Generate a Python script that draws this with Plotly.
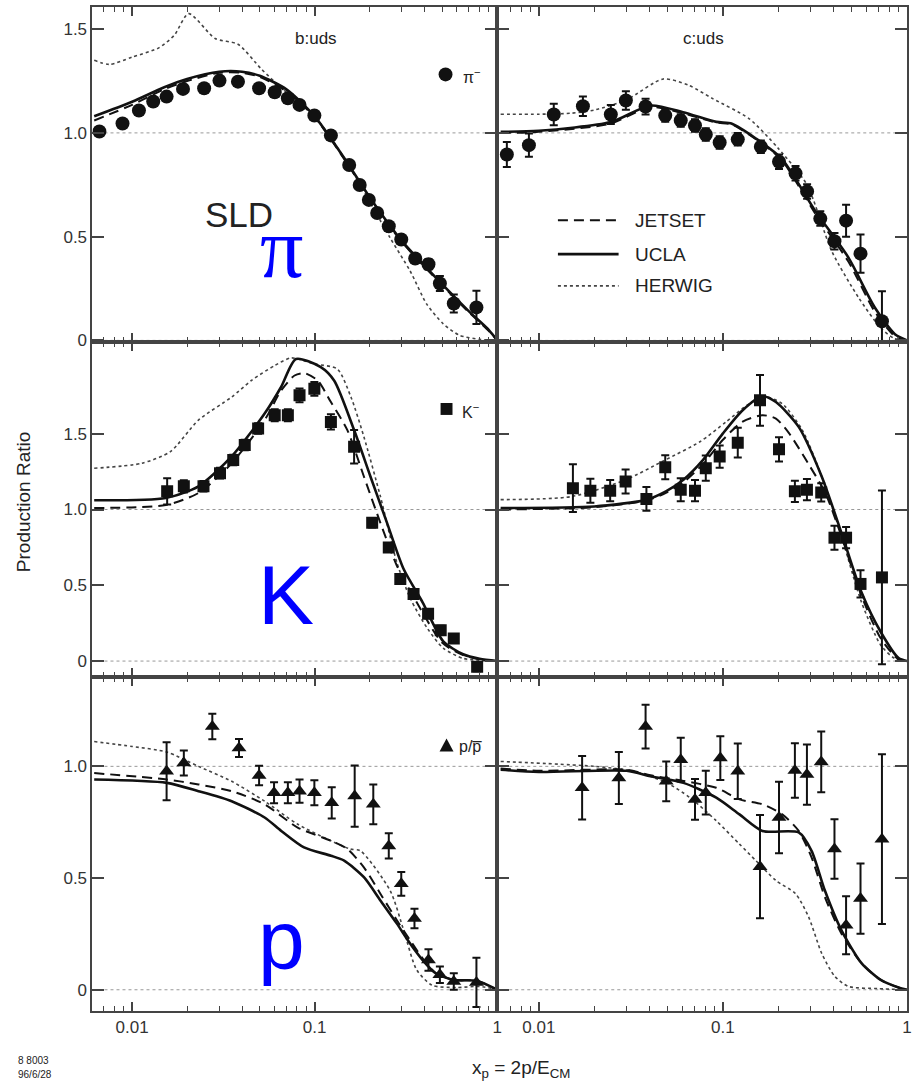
import plotly.graph_objects as go
from plotly.subplots import make_subplots

# ---------------- data ----------------
# pi, b:uds
pi_b_x = [0.00662, 0.00886, 0.0109, 0.01305, 0.01545, 0.0190, 0.0248, 0.0301, 0.0380, 0.0496, 0.0604, 0.0713, 0.0826,
          0.0996, 0.1227, 0.1545, 0.1764, 0.198, 0.220, 0.2546, 0.298, 0.3553, 0.420, 0.485, 0.578, 0.769]
pi_b_y = [1.007, 1.045, 1.108, 1.151, 1.175, 1.212, 1.215, 1.252, 1.247, 1.215, 1.196, 1.167, 1.135,
          1.084, 0.988, 0.845, 0.749, 0.677, 0.614, 0.550, 0.486, 0.395, 0.367, 0.274, 0.178, 0.159]
pi_b_e = [0.01, 0.01, 0.01, 0.01, 0.01, 0.01, 0.01, 0.01, 0.01, 0.01, 0.01, 0.01, 0.01,
          0.01, 0.01, 0.01, 0.012, 0.012, 0.015, 0.015, 0.018, 0.02, 0.025, 0.036, 0.043, 0.08]
# pi, c:uds
pi_c_x = [0.0067, 0.00883, 0.01205, 0.01735, 0.0246, 0.0297, 0.038, 0.0486, 0.059, 0.0705, 0.0807, 0.096, 0.1204,
          0.1607, 0.2017, 0.248, 0.2866, 0.338, 0.4036, 0.4667, 0.559, 0.731]
pi_c_y = [0.896, 0.941, 1.089, 1.129, 1.089, 1.156, 1.127, 1.084, 1.060, 1.036, 0.992, 0.954, 0.969,
          0.933, 0.861, 0.805, 0.718, 0.587, 0.478, 0.577, 0.418, 0.092]
pi_c_e = [0.06, 0.056, 0.052, 0.047, 0.046, 0.045, 0.038, 0.03, 0.03, 0.03, 0.03, 0.03, 0.03,
          0.03, 0.035, 0.035, 0.035, 0.035, 0.04, 0.077, 0.092, 0.145]
# K, b:uds
k_b_x = [0.01556, 0.0192, 0.0246, 0.0303, 0.0358, 0.0414, 0.049, 0.0604, 0.0713, 0.0826, 0.0996, 0.1227, 0.1644,
         0.2065, 0.2546, 0.2944, 0.348, 0.418, 0.49, 0.578, 0.776]
k_b_y = [1.12, 1.153, 1.153, 1.24, 1.327, 1.426, 1.534, 1.622, 1.622, 1.753, 1.796, 1.578, 1.414,
         0.912, 0.749, 0.541, 0.443, 0.312, 0.203, 0.149, -0.037]
k_b_e = [0.087, 0.04, 0.035, 0.035, 0.035, 0.035, 0.035, 0.04, 0.04, 0.045, 0.045, 0.05, 0.11,
         0.03, 0.03, 0.03, 0.03, 0.03, 0.03, 0.03, 0.03]
# K, c:uds
k_c_x = [0.01531, 0.01905, 0.0244, 0.0296, 0.0384, 0.0486, 0.059, 0.0705, 0.0807, 0.096, 0.1204, 0.159, 0.2017,
         0.246, 0.286, 0.342, 0.4036, 0.4667, 0.559, 0.731]
k_c_y = [1.141, 1.124, 1.124, 1.185, 1.07, 1.279, 1.131, 1.124, 1.273, 1.349, 1.441, 1.72, 1.397,
         1.12, 1.131, 1.113, 0.814, 0.814, 0.509, 0.552]
k_c_e = [0.158, 0.079, 0.07, 0.079, 0.079, 0.079, 0.076, 0.07, 0.084, 0.074, 0.098, 0.168, 0.08,
         0.07, 0.07, 0.06, 0.079, 0.07, 0.09, 0.573]
# p, b:uds
p_b_x = [0.01545, 0.0192, 0.0275, 0.0385, 0.0496, 0.0599, 0.0713, 0.0826, 0.0996, 0.124, 0.1656, 0.2094, 0.2546,
         0.298, 0.352, 0.42, 0.485, 0.578, 0.769]
p_b_y = [0.978, 1.015, 1.178, 1.082, 0.959, 0.882, 0.882, 0.889, 0.882, 0.837, 0.867, 0.83, 0.644,
         0.474, 0.319, 0.133, 0.067, 0.037, 0.033]
p_b_e = [0.13, 0.056, 0.057, 0.04, 0.044, 0.047, 0.047, 0.052, 0.056, 0.07, 0.137, 0.089, 0.056,
         0.053, 0.044, 0.048, 0.037, 0.037, 0.11]
# p, c:uds
p_c_x = [0.01718, 0.0272, 0.038, 0.0492, 0.059, 0.0705, 0.0807, 0.0968, 0.1204, 0.159, 0.2017, 0.246, 0.286,
         0.342, 0.4036, 0.4667, 0.559, 0.731]
p_c_y = [0.904, 0.948, 1.178, 0.933, 1.03, 0.852, 0.882, 1.037, 0.978, 0.551, 0.771, 0.981, 0.963,
         1.02, 0.63, 0.289, 0.408, 0.674]
p_c_e = [0.142, 0.116, 0.098, 0.089, 0.098, 0.091, 0.098, 0.098, 0.124, 0.231, 0.16, 0.122, 0.135,
         0.136, 0.133, 0.13, 0.157, 0.38]

# model curves (JETSET dashed, UCLA solid, HERWIG dotted)
pi_b_herwig_x = [0.0062, 0.0075, 0.01, 0.014, 0.017, 0.0204, 0.0285, 0.038, 0.051, 0.065, 0.1, 0.15, 0.259, 0.333,
                 0.411, 0.506, 0.62, 0.8, 1.0]
pi_b_herwig_y = [1.35, 1.33, 1.365, 1.41, 1.47, 1.575, 1.455, 1.427, 1.308, 1.22, 1.08, 0.86, 0.494, 0.335,
                 0.175, 0.08, 0.025, 0.005, 0.0]
pi_b_ucla_x = [0.0062, 0.01, 0.015, 0.02, 0.03, 0.04, 0.05, 0.07, 0.1, 0.15, 0.2, 0.3, 0.5, 0.7, 0.9, 1.0]
pi_b_ucla_y = [1.08, 1.15, 1.22, 1.26, 1.295, 1.295, 1.275, 1.21, 1.08, 0.86, 0.69, 0.48, 0.27, 0.14, 0.05, 0.0]
pi_b_jetset_x = pi_b_ucla_x
pi_b_jetset_y = [1.06, 1.135, 1.21, 1.25, 1.29, 1.29, 1.27, 1.2, 1.075, 0.855, 0.685, 0.475, 0.265, 0.135, 0.045, 0.0]

pi_c_herwig_x = [0.0062, 0.01, 0.015, 0.02, 0.03, 0.0474, 0.065, 0.088, 0.139, 0.2, 0.286, 0.39, 0.545, 0.72, 0.85, 1.0]
pi_c_herwig_y = [1.09, 1.09, 1.095, 1.11, 1.16, 1.26, 1.23, 1.165, 1.068, 0.925, 0.75, 0.43, 0.207, 0.06, 0.01, 0.0]
pi_c_ucla_x = [0.0062, 0.01, 0.0246, 0.0404, 0.0607, 0.0921, 0.112, 0.151, 0.208, 0.318, 0.48, 0.667, 0.86, 1.0]
pi_c_ucla_y = [1.005, 1.01, 1.052, 1.132, 1.10, 1.053, 1.044, 0.973, 0.877, 0.623, 0.40, 0.16, 0.03, 0.0]
pi_c_jetset_x = pi_c_ucla_x
pi_c_jetset_y = [1.0, 1.005, 1.045, 1.125, 1.095, 1.05, 1.04, 0.97, 0.87, 0.61, 0.38, 0.14, 0.02, 0.0]

k_b_herwig_x = [0.0062, 0.0113, 0.0162, 0.0231, 0.0351, 0.045, 0.0604, 0.0743, 0.0996, 0.133, 0.158, 0.186, 0.229,
                0.282, 0.335, 0.414, 0.506, 0.65, 0.8, 1.0]
k_b_herwig_y = [1.272, 1.305, 1.382, 1.59, 1.742, 1.851, 1.95, 2.0, 1.96, 1.927, 1.742, 1.48, 1.087,
                0.65, 0.41, 0.216, 0.085, 0.018, 0.005, 0.0]
k_b_ucla_x = [0.0062, 0.0153, 0.0231, 0.0351, 0.0532, 0.0656, 0.079, 0.108, 0.128, 0.1644, 0.202, 0.249, 0.307,
              0.39, 0.506, 0.65, 0.8, 1.0]
k_b_ucla_y = [1.061, 1.076, 1.153, 1.35, 1.633, 1.81, 1.993, 1.94, 1.85, 1.524, 1.218, 0.912, 0.607,
              0.388, 0.13, 0.045, 0.015, 0.0]
k_b_jetset_x = [0.0062, 0.0153, 0.0231, 0.0351, 0.0532, 0.0656, 0.0776, 0.088, 0.104, 0.1227, 0.151, 0.186, 0.229,
                0.282, 0.362, 0.5, 0.65, 0.8, 1.0]
k_b_jetset_y = [1.01, 1.03, 1.109, 1.305, 1.59, 1.786, 1.884, 1.9, 1.85, 1.709, 1.524, 1.218, 0.912,
                0.629, 0.388, 0.12, 0.04, 0.012, 0.0]

k_c_herwig_x = [0.0062, 0.015, 0.0296, 0.0486, 0.075, 0.104, 0.139, 0.171, 0.21, 0.27, 0.344, 0.44, 0.566, 0.72, 0.85, 1.0]
k_c_herwig_y = [1.065, 1.085, 1.196, 1.327, 1.447, 1.578, 1.698, 1.742, 1.698, 1.524, 1.218, 0.825, 0.388, 0.105, 0.02, 0.0]
k_c_ucla_x = [0.0062, 0.02, 0.0384, 0.049, 0.061, 0.078, 0.1, 0.128, 0.164, 0.194, 0.258, 0.344, 0.44, 0.566, 0.72, 0.9, 1.0]
k_c_ucla_y = [1.01, 1.02, 1.065, 1.12, 1.196, 1.327, 1.502, 1.655, 1.747, 1.709, 1.545, 1.218, 0.847, 0.454, 0.192, 0.02, 0.0]
k_c_jetset_x = [0.0062, 0.02, 0.0384, 0.049, 0.061, 0.078, 0.1, 0.128, 0.164, 0.194, 0.229, 0.29, 0.36, 0.44, 0.566,
                0.72, 0.9, 1.0]
k_c_jetset_y = [1.0, 1.015, 1.06, 1.11, 1.18, 1.3, 1.46, 1.58, 1.622, 1.6, 1.502, 1.305, 1.109, 0.825, 0.43,
                0.15, 0.01, 0.0]

p_b_herwig_x = [0.0062, 0.01, 0.0155, 0.0231, 0.0351, 0.0532, 0.0807, 0.1227, 0.1565, 0.178, 0.259, 0.307, 0.362,
                0.44, 0.6, 0.8, 1.0]
p_b_herwig_y = [1.111, 1.089, 1.064, 1.0, 0.933, 0.844, 0.741, 0.667, 0.63, 0.622, 0.444, 0.267, 0.089,
                0.02, 0.01, 0.015, 0.0]
p_b_ucla_x = [0.0062, 0.0155, 0.0231, 0.0351, 0.0532, 0.0656, 0.0874, 0.1227, 0.145, 0.186, 0.229, 0.282, 0.333,
              0.39, 0.46, 0.575, 0.77, 1.0]
p_b_ucla_y = [0.941, 0.926, 0.889, 0.844, 0.771, 0.711, 0.637, 0.6, 0.578, 0.504, 0.4, 0.296, 0.207,
              0.133, 0.074, 0.044, 0.04, 0.0]
p_b_jetset_x = [0.0062, 0.0155, 0.0231, 0.0351, 0.0532, 0.0807, 0.1227, 0.151, 0.186, 0.229, 0.282, 0.333, 0.39,
                0.46, 0.575, 0.77, 1.0]
p_b_jetset_y = [0.97, 0.941, 0.919, 0.889, 0.83, 0.726, 0.667, 0.63, 0.548, 0.43, 0.311, 0.222, 0.14,
                0.075, 0.045, 0.04, 0.0]

p_c_herwig_x = [0.0062, 0.02, 0.0328, 0.0496, 0.0662, 0.0921, 0.123, 0.151, 0.194, 0.248, 0.292, 0.344, 0.405, 0.48,
                0.7, 1.0]
p_c_herwig_y = [1.022, 1.0, 0.978, 0.926, 0.86, 0.756, 0.652, 0.578, 0.489, 0.43, 0.326, 0.163, 0.06, 0.015,
                0.005, 0.0]
p_c_ucla_x = [0.0062, 0.01, 0.03, 0.0404, 0.061, 0.092, 0.123, 0.164, 0.258, 0.303, 0.358, 0.44, 0.566, 0.72, 0.9, 1.0]
p_c_ucla_y = [0.985, 0.975, 0.98, 0.956, 0.926, 0.86, 0.785, 0.711, 0.704, 0.622, 0.444, 0.267, 0.119, 0.044, 0.01, 0.0]
p_c_jetset_x = [0.0062, 0.01, 0.03, 0.0404, 0.061, 0.092, 0.123, 0.164, 0.21, 0.258, 0.303, 0.358, 0.44, 0.566,
                0.72, 0.9, 1.0]
p_c_jetset_y = [0.99, 0.98, 0.985, 0.96, 0.935, 0.904, 0.852, 0.83, 0.785, 0.711, 0.593, 0.415, 0.252, 0.119,
                0.044, 0.01, 0.0]

y_ticks_top = [0, 0.5, 1.0, 1.5]
y_ticks_mid = [0, 0.5, 1.0, 1.5]
y_ticks_bot = [0, 0.5, 1.0]
x_ticks = [0.01, 0.1, 1]
x_tick_text = ["0.01", "0.1", "1"]

# ---------------- figure ----------------
W, H = 912, 1090
fig = make_subplots(rows=3, cols=2, horizontal_spacing=0, vertical_spacing=0)

panels = [
    (1, 1, pi_b_x, pi_b_y, pi_b_e, "circle", 14,
     (pi_b_jetset_x, pi_b_jetset_y), (pi_b_ucla_x, pi_b_ucla_y), (pi_b_herwig_x, pi_b_herwig_y)),
    (1, 2, pi_c_x, pi_c_y, pi_c_e, "circle", 14,
     (pi_c_jetset_x, pi_c_jetset_y), (pi_c_ucla_x, pi_c_ucla_y), (pi_c_herwig_x, pi_c_herwig_y)),
    (2, 1, k_b_x, k_b_y, k_b_e, "square", 12,
     (k_b_jetset_x, k_b_jetset_y), (k_b_ucla_x, k_b_ucla_y), (k_b_herwig_x, k_b_herwig_y)),
    (2, 2, k_c_x, k_c_y, k_c_e, "square", 12,
     (k_c_jetset_x, k_c_jetset_y), (k_c_ucla_x, k_c_ucla_y), (k_c_herwig_x, k_c_herwig_y)),
    (3, 1, p_b_x, p_b_y, p_b_e, "triangle-up", 13,
     (p_b_jetset_x, p_b_jetset_y), (p_b_ucla_x, p_b_ucla_y), (p_b_herwig_x, p_b_herwig_y)),
    (3, 2, p_c_x, p_c_y, p_c_e, "triangle-up", 13,
     (p_c_jetset_x, p_c_jetset_y), (p_c_ucla_x, p_c_ucla_y), (p_c_herwig_x, p_c_herwig_y)),
]

for (r, c, dx, dy, de, sym, msz, jet, ucla, herw) in panels:
    fig.add_trace(go.Scatter(x=herw[0], y=herw[1], mode="lines", name="HERWIG", showlegend=False,
                             line=dict(color="#444", width=1.6, dash="dot", shape="spline", smoothing=0.7)),
                  row=r, col=c)
    fig.add_trace(go.Scatter(x=jet[0], y=jet[1], mode="lines", name="JETSET", showlegend=False,
                             line=dict(color="#111", width=2, dash="10px,6px", shape="spline", smoothing=0.7)),
                  row=r, col=c)
    fig.add_trace(go.Scatter(x=ucla[0], y=ucla[1], mode="lines", name="UCLA", showlegend=False,
                             line=dict(color="#111", width=2.6, shape="spline", smoothing=0.7)),
                  row=r, col=c)
    fig.add_trace(go.Scatter(x=dx, y=dy, mode="markers", showlegend=False,
                             marker=dict(symbol=sym, size=msz, color="#111"),
                             error_y=dict(type="data", array=de, thickness=2, width=4, color="#111")),
                  row=r, col=c)
    # reference lines at 1 and 0
    for yv in (1.0, 0.0):
        fig.add_hline(y=yv, line=dict(color="#999", width=1, dash="dot"), row=r, col=c, layer="below")

xdom = {1: [93 / W, 500 / W], 2: [500 / W, 1.0]}
ydom = {1: [1 - 345 / H, 1 - 7 / H], 2: [1 - 682 / H, 1 - 345 / H], 3: [1 - 1018 / H, 1 - 682 / H]}
yrng = {1: [-0.01, 1.607], 2: [-0.105, 2.102], 3: [-0.093, 1.40]}
yticks = {1: y_ticks_top, 2: y_ticks_mid, 3: y_ticks_bot}
xrng = {1: [-2.217, 0.0], 2: [-2.226, 0.0]}

minor_vals = [m * 10 ** e for e in (-3, -2, -1) for m in range(2, 10)]

font_fam = "Liberation Sans, Arial, sans-serif"
axcol = "#444"

for r in (1, 2, 3):
    for c in (1, 2):
        fig.update_xaxes(type="log", range=xrng[c], domain=xdom[c], row=r, col=c,
                         tickmode="array", tickvals=x_ticks, ticktext=x_tick_text,
                         ticks="inside", ticklen=9, tickwidth=1.5, tickcolor=axcol,
                         minor=dict(tickmode="array", tickvals=minor_vals, ticks="inside", ticklen=5,
                                    tickwidth=1.2, tickcolor=axcol, showgrid=False),
                         showline=True, linecolor=axcol, linewidth=2, mirror="ticks",
                         showgrid=False, zeroline=False,
                         showticklabels=(r == 3),
                         tickfont=dict(family=font_fam, size=17, color="#333"))
        fig.update_yaxes(range=yrng[r], domain=ydom[r], row=r, col=c,
                         tickmode="array", tickvals=yticks[r],
                         ticktext=["0" if v == 0 else f"{v:.1f}" for v in yticks[r]],
                         ticks="inside", ticklen=12, tickwidth=1.5, tickcolor=axcol,
                         showline=True, linecolor=axcol, linewidth=2, mirror="ticks",
                         showgrid=False, zeroline=False,
                         showticklabels=(c == 1),
                         tickfont=dict(family=font_fam, size=17, color="#333"))

ann = []


def px(x):
    return x / W


def py(y):
    return 1 - y / H


def txt(x, y, t, size, color="#222", xanchor="center", yanchor="middle", family=font_fam, angle=0):
    ann.append(dict(x=px(x), y=py(y), xref="paper", yref="paper", text=t, showarrow=False,
                    xanchor=xanchor, yanchor=yanchor, textangle=angle,
                    font=dict(family=family, size=size, color=color)))


txt(318, 39, "b:uds", 17)
txt(707, 39, "c:uds", 17)
txt(240, 216, "SLD", 35)
txt(283, 250, "π", 86, color="#0000ff", family="Liberation Serif, Times New Roman, serif")
txt(288, 599, "K", 84, color="#0000ff")
txt(283, 947, "p", 84, color="#0000ff")

# particle labels
txt(464, 77, "π<sup>−</sup>", 16, xanchor="left")
txt(463, 414, "K<sup>−</sup>", 16, xanchor="left")
txt(460, 752, "p/p\u0305", 16, xanchor="left")

# model legend text
txt(636, 222, "JETSET", 19, xanchor="left")
txt(636, 256, "UCLA", 19, xanchor="left")
txt(636, 288, "HERWIG", 19, xanchor="left")

# axis titles
txt(23, 506, "Production Ratio", 19, angle=-90)
txt(524, 1077, "x<sub>p</sub> = 2p/E<sub>CM</sub>", 19)
txt(16, 1068, "8 8003", 10, xanchor="left")
txt(16, 1082, "96/6/28", 10, xanchor="left")

fig.update_layout(annotations=list(fig.layout.annotations) + ann)

shapes = []
# legend line samples
shapes.append(dict(type="line", xref="paper", yref="paper", x0=px(561), x1=px(622), y0=py(222), y1=py(222),
                   line=dict(color="#111", width=2, dash="10px,6px")))
shapes.append(dict(type="line", xref="paper", yref="paper", x0=px(561), x1=px(622), y0=py(256), y1=py(256),
                   line=dict(color="#111", width=2.6)))
shapes.append(dict(type="line", xref="paper", yref="paper", x0=px(561), x1=px(622), y0=py(288), y1=py(288),
                   line=dict(color="#444", width=1.6, dash="dot")))
# marker samples
shapes.append(dict(type="circle", xref="paper", yref="paper", x0=px(441), x1=px(455), y0=py(82), y1=py(68),
                   fillcolor="#111", line=dict(width=0)))
shapes.append(dict(type="rect", xref="paper", yref="paper", x0=px(443), x1=px(455), y0=py(418), y1=py(406),
                   fillcolor="#111", line=dict(width=0)))
shapes.append(dict(type="path", xref="paper", yref="paper",
                   path=f"M {px(442)},{py(757)} L {px(456)},{py(757)} L {px(449)},{py(744)} Z",
                   fillcolor="#111", line=dict(width=0)))
fig.update_layout(shapes=list(fig.layout.shapes) + shapes)

fig.update_layout(width=W, height=H, margin=dict(l=0, r=0, t=0, b=0),
                  paper_bgcolor="white", plot_bgcolor="white", showlegend=False,
                  font=dict(family=font_fam, color="#222"))

fig.write_html("out.html")
